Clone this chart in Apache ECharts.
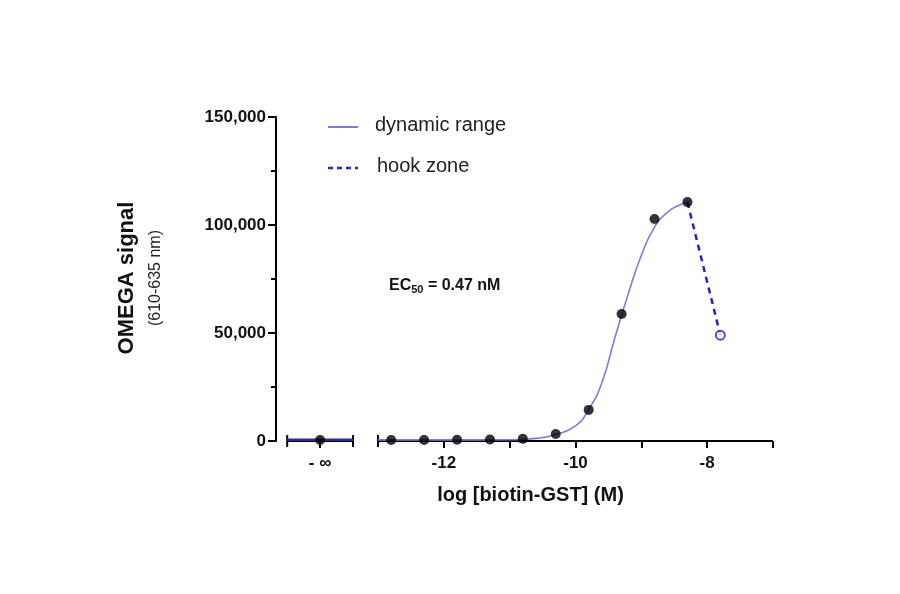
<!DOCTYPE html>
<html style="height: 100%;">
<head>
<meta charset="utf-8">
<script src="https://cdn.jsdelivr.net/npm/echarts@6/dist/echarts.min.js"></script>
</head>
<body style="height: 100%; margin: 0; background:#fff">
<div id="container" style="width:900px;height:594px"></div>
<script>
// -∞ is drawn on a separate stub of the x axis, placed at x = -13.88
var NEG_INF = -13.88;
var xPoints = [-12.8, -12.3, -11.8, -11.3, -10.8, -10.3, -9.8, -9.3, -8.8, -8.3];
var yPoints = [500, 500, 600, 700, 1000, 3200, 14400, 58800, 102800, 110600];
var infValue = 500;
var hookX = [-8.3, -7.8];
var hookY = [110600, 49000];
// fitted curve
var curveX = [-13, -12, -11, -10.6, -10.3, -10.0, -9.8, -9.6, -9.4, -9.2, -9.0, -8.8, -8.6, -8.4, -8.3];
var curveY = [500, 500, 600, 1200, 3000, 7000, 14500, 27000, 48000, 68000, 86000, 99000, 106000, 109500, 110500];
var majorTicks = [-12, -10, -8];
var minorTicks = [-11, -9, -7];

var dom = document.getElementById('container');
var myChart = echarts.init(dom);
var font = 'Arial, "Liberation Sans", sans-serif';

function pairs(xs, ys) {
  return xs.map(function (x, i) { return [x, ys[i]]; });
}

var option = {
  animation: false,
  grid: { left: 276, right: 127, top: 117, bottom: 153 },
  xAxis: {
    type: 'value', min: -14.55, max: -7,
    axisLine: { show: false },
    splitLine: { show: false },
    axisTick: { show: true, length: 7, lineStyle: { color: '#000', width: 2 },
      customValues: [NEG_INF].concat(majorTicks, minorTicks) },
    axisLabel: { customValues: [NEG_INF].concat(majorTicks), margin: 14,
      fontFamily: font, fontWeight: 'bold', fontSize: 17, color: '#111',
      formatter: function (v) { return v < -13.5 ? '- ∞' : String(v); } },
    name: 'log [biotin-GST] (M)', nameLocation: 'middle', nameGap: 44,
    nameTextStyle: { fontFamily: font, fontWeight: 'bold', fontSize: 20, color: '#111', padding: [0, 0, 0, 12] }
  },
  yAxis: {
    type: 'value', min: 0, max: 150000, interval: 50000,
    axisLine: { show: true, lineStyle: { color: '#000', width: 2 } },
    axisTick: { show: true, length: 8, lineStyle: { color: '#000', width: 2 } },
    minorTick: { show: true, splitNumber: 2, length: 5, lineStyle: { color: '#000', width: 2 } },
    splitLine: { show: false },
    axisLabel: { fontFamily: font, fontWeight: 'bold', fontSize: 17, color: '#111', margin: 10,
      formatter: function (v) { return v.toLocaleString('en-US'); } }
  },
  series: [
    { type: 'line', data: [[-14.38, 0], [-13.38, 0]], symbol: 'rect', symbolSize: [2, 12],
      lineStyle: { color: '#000', width: 2 }, itemStyle: { color: '#000' }, z: 1 },
    { type: 'line', data: [[-13.0, 0], [-7, 0]], symbol: 'none',
      lineStyle: { color: '#000', width: 2 }, z: 1 },
    { type: 'line', data: [[-13.0, 0]], symbol: 'rect', symbolSize: [2, 12],
      itemStyle: { color: '#000' }, z: 1 },
    { type: 'line', data: [[-14.38, 600], [-13.38, 600]], symbol: 'none',
      lineStyle: { color: '#2b2b9a', width: 2.5 }, z: 2 },
    { type: 'line', data: pairs(curveX, curveY), smooth: 0.5, symbol: 'none',
      lineStyle: { color: '#7b7be0', width: 1.6 }, z: 2 },
    { type: 'line', data: pairs(hookX, hookY), symbol: 'none',
      lineStyle: { color: '#2323c8', width: 2.5, type: [6, 5] }, z: 2 },
    { type: 'scatter', data: [[hookX[1], hookY[1]]], symbol: 'circle', symbolSize: 9,
      itemStyle: { color: '#fff', borderColor: '#2323c8', borderWidth: 2 }, z: 4 },
    { type: 'scatter', data: pairs(xPoints, yPoints).concat([[NEG_INF, infValue]]),
      symbolSize: 10, itemStyle: { color: '#000' }, z: 5 }
  ],
  graphic: [
    { type: 'line', shape: { x1: 328, y1: 127, x2: 358, y2: 127 }, style: { stroke: '#7b7be0', lineWidth: 2 } },
    { type: 'text', left: 375, top: 115, style: { text: 'dynamic range', fontFamily: font, fontSize: 20, fill: '#222' } },
    { type: 'line', shape: { x1: 328, y1: 168, x2: 358, y2: 168 }, style: { stroke: '#2323c8', lineWidth: 2.5, lineDash: [5, 4] } },
    { type: 'text', left: 377, top: 156, style: { text: 'hook zone', fontFamily: font, fontSize: 20, fill: '#222' } },
    { type: 'text', left: 389, top: 278, style: {
        text: '{b|EC}{s|50}{b| = 0.47 nM}',
        rich: { b: { fontFamily: font, fontWeight: 'bold', fontSize: 16, fill: '#111' },
                s: { fontFamily: font, fontWeight: 'bold', fontSize: 11, fill: '#111', padding: [8, 0, 0, 0] } } } },
    { type: 'text', x: 127, y: 278, rotation: Math.PI / 2, style: { text: 'OMEGA signal',
        fontFamily: font, fontWeight: 'bold', fontSize: 22, fill: '#111', align: 'center', verticalAlign: 'middle' } },
    { type: 'text', x: 156, y: 278, rotation: Math.PI / 2, style: { text: '(610-635 nm)',
        fontFamily: font, fontSize: 16, fill: '#222', align: 'center', verticalAlign: 'middle' } }
  ]
};
myChart.setOption(option);
</script>
</body>
</html>
